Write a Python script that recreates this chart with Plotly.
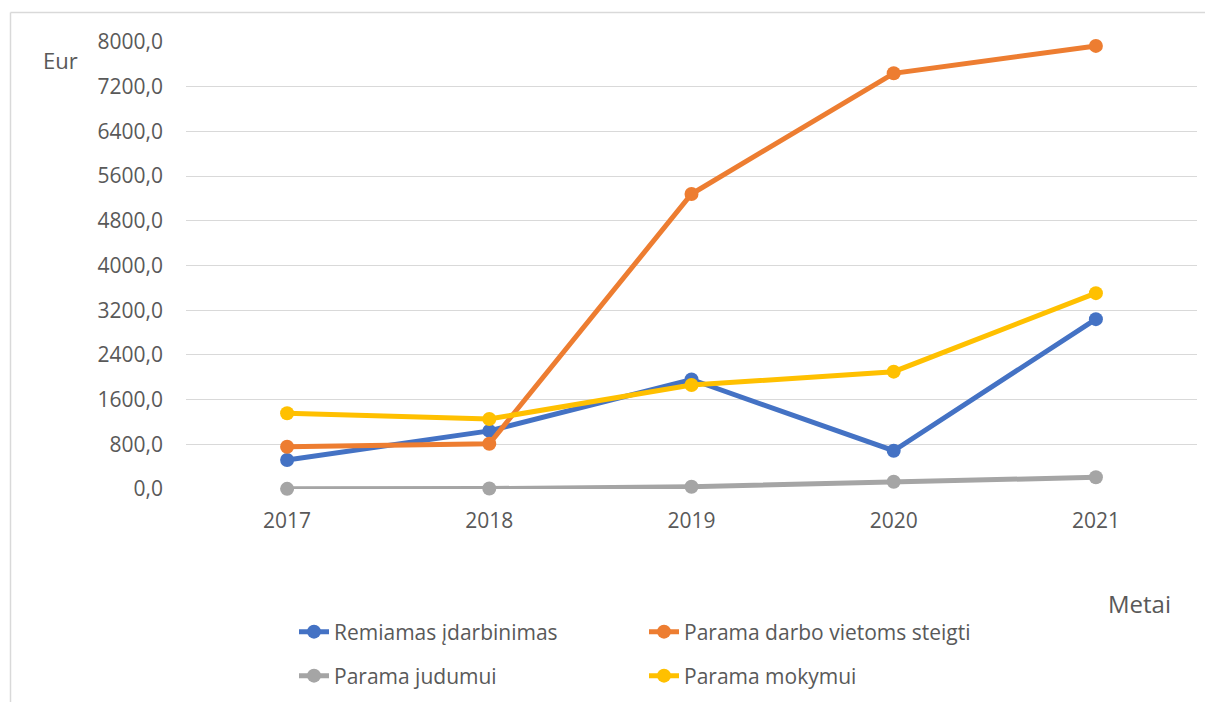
import plotly.graph_objects as go

years = ["2017", "2018", "2019", "2020", "2021"]
remiamas = [520, 1040, 1960, 685, 3040]
darbo_vietoms = [757, 810, 5280, 7440, 7930]
judumui = [3, 8, 41, 130, 210]
mokymui = [1357, 1253, 1860, 2100, 3505]

series_names = ["Remiamas įdarbinimas", "Parama darbo vietoms steigti",
                "Parama judumui", "Parama mokymui"]
series_values = [remiamas, darbo_vietoms, judumui, mokymui]
colors = ["#4472C4", "#ED7D31", "#A5A5A5", "#FFC000"]
legend_ids = ["legend", "legend", "legend2", "legend2"]

y_ticks = [i * 800 for i in range(11)]

FONT = "Open Sans, Liberation Sans, sans-serif"
TXT = "#595959"

fig = go.Figure()
for name, vals, col, lg in zip(series_names, series_values, colors, legend_ids):
    fig.add_trace(go.Scatter(
        x=years, y=vals, name=name, mode="lines+markers",
        line=dict(color=col, width=5),
        marker=dict(color=col, size=14),
        cliponaxis=False,
        legend=lg,
    ))

# page has an 8px body margin; work in page pixels and convert
OFF = 8
W, H = 1213 - OFF, 702 - OFF
PL, PR, PT, PB = 186, 1197, 42, 489  # plot area in page pixels
L = PL - OFF
R = W - (PR - OFF)
T = PT - OFF
B = H - (PB - OFF)
pw, ph = PR - PL, PB - PT

def px_x(p):
    return (p - PL) / pw

def px_y(p):
    return (PB - p) / ph

def cx(p):
    return (p - OFF) / W

def cy(p):
    return 1 - (p - OFF) / H

leg_common = dict(orientation="h", xanchor="left", yanchor="middle",
                  xref="container", yref="container",
                  entrywidth=305, entrywidthmode="pixels",
                  font=dict(size=21, color=TXT), bgcolor="rgba(0,0,0,0)",
                  itemwidth=30)

fig.update_layout(
    width=W, height=H,
    margin=dict(l=L, r=R, t=T, b=B, autoexpand=False),
    paper_bgcolor="white", plot_bgcolor="white",
    separators=", ",
    font=dict(family=FONT, color=TXT, size=21),
    showlegend=True,
    legend=dict(x=cx(294), y=cy(632), **leg_common),
    legend2=dict(x=cx(294), y=cy(676), **leg_common),
    xaxis=dict(type="category", range=[-0.5, 4.5], showgrid=False,
               zeroline=False, showline=False, ticks="",
               tickfont=dict(size=21, color=TXT), ticklabelstandoff=17),
    yaxis=dict(range=[0, 8000], tickvals=y_ticks, tickformat=".1f",
               showgrid=True, gridcolor="#D9D9D9", gridwidth=1.3,
               zeroline=False, showline=False, ticks="",
               tickfont=dict(size=21, color=TXT), ticklabelstandoff=22),
    annotations=[
        dict(text="Eur", x=px_x(60), y=px_y(60), xref="paper", yref="paper",
             xanchor="center", yanchor="middle",
             showarrow=False, font=dict(size=22, color=TXT)),
        dict(text="Metai", x=px_x(1139), y=px_y(603), xref="paper", yref="paper",
             xanchor="center", yanchor="middle",
             showarrow=False, font=dict(size=24, color=TXT)),
    ],
    shapes=[
        dict(type="line", xref="paper", yref="paper", x0=px_x(10.5), x1=px_x(10.5),
             y0=px_y(12.5), y1=px_y(720), line=dict(color="#D9D9D9", width=1.5)),
        dict(type="line", xref="paper", yref="paper", x0=px_x(10.5), x1=px_x(1230),
             y0=px_y(12.5), y1=px_y(12.5), line=dict(color="#D9D9D9", width=1.5)),
    ],
)

fig.write_html("out.html")
